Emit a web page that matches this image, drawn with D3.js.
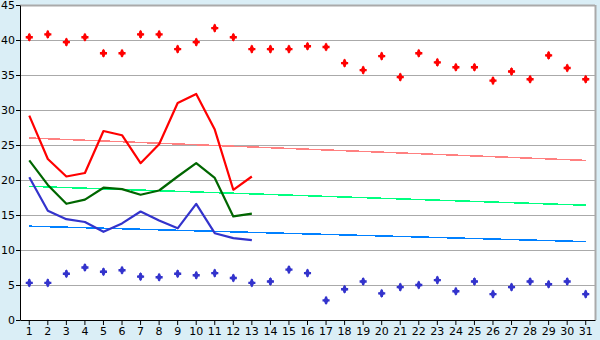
<!DOCTYPE html>
<html>
<head>
<meta charset="utf-8">
<script src="https://cdn.jsdelivr.net/npm/d3@7"></script>
<style>
  body { margin: 0; background: #daeef6; }
  text { font-family: "DejaVu Sans", Verdana, sans-serif; font-size: 11px; fill: #000; }
</style>
</head>
<body>
<svg class="chart"></svg>
<script>
(function () {
    'use strict';

    var days = d3.range(1, 32);
    var yTicks = [0, 5, 10, 15, 20, 25, 30, 35, 40, 45];

    // monthly extremes (markers)
    var maxPoints = [40.4, 40.8, 39.7, 40.4, 38.1, 38.1, 40.8, 40.8, 38.7, 39.7,
        41.7, 40.4, 38.7, 38.7, 38.7, 39.1, 39.0, 36.7, 35.7, 37.7,
        34.7, 38.1, 36.8, 36.1, 36.1, 34.2, 35.5, 34.4, 37.8, 36.0, 34.4];
    var minPoints = [5.3, 5.3, 6.6, 7.5, 6.9, 7.1, 6.2, 6.1, 6.6, 6.4,
        6.7, 6.0, 5.3, 5.5, 7.2, 6.7, 2.8, 4.4, 5.5, 3.8,
        4.7, 5.0, 5.7, 4.1, 5.5, 3.7, 4.7, 5.5, 5.1, 5.5, 3.7];

    // current month (days 1-13)
    var highLine = [29.2, 23.0, 20.5, 21.0, 27.0, 26.4, 22.4, 25.1, 31.0, 32.3, 27.2, 18.6, 20.5];
    var meanLine = [22.8, 19.3, 16.6, 17.2, 18.9, 18.7, 17.9, 18.5, 20.5, 22.4, 20.3, 14.8, 15.2];
    var lowLine  = [20.4, 15.6, 14.4, 14.0, 12.6, 13.8, 15.5, 14.2, 13.1, 16.6, 12.4, 11.7, 11.4];

    // trend lines, value at day 1 and day 31
    var highTrend = [26.0, 22.8];
    var meanTrend = [19.1, 16.4];
    var lowTrend  = [13.4, 11.2];

    var margin = {top: 5, right: 5, bottom: 20, left: 20},
        width = 600 - margin.left - margin.right,
        height = 340 - margin.top - margin.bottom;

    var svg = d3.select(".chart")
        .attr("width", 600)
        .attr("height", 340)
        .append("g")
        .attr("transform", "translate(" + margin.left + "," + margin.top + ")");

    var x = d3.scaleBand().domain(days).range([0, width]);
    var xc = function (d) { return x(d) + x.bandwidth() / 2; };
    var y = d3.scaleLinear().domain([0, 45]).range([height, 0]);

    svg.append("rect")
        .attr("width", width)
        .attr("height", height)
        .attr("fill", "#fff");

    svg.append("g")
        .selectAll("line")
        .data(yTicks.slice(1))
        .enter().append("line")
        .attr("x1", 0).attr("x2", width)
        .attr("y1", function (d) { return Math.round(y(d)) + 0.5; })
        .attr("y2", function (d) { return Math.round(y(d)) + 0.5; })
        .attr("stroke", "#aaaaaa")
        .attr("stroke-width", function (d) { return d === 45 ? 2 : 1; });

    svg.append("line")
        .attr("x1", width + 0.5).attr("x2", width + 0.5)
        .attr("y1", 0).attr("y2", height)
        .attr("stroke", "#aaaaaa")
        .attr("stroke-width", 2);

    function drawTrend(vals, col) {
        svg.append("line")
            .attr("x1", xc(1)).attr("x2", xc(31))
            .attr("y1", y(vals[0])).attr("y2", y(vals[1]))
            .attr("stroke", col)
            .attr("stroke-width", 1.5)
            .attr("shape-rendering", "crispEdges");
    }
    drawTrend(highTrend, "#ff8080");
    drawTrend(meanTrend, "#00ff80");
    drawTrend(lowTrend, "#0080ff");

    var line = d3.line()
        .x(function (d, i) { return xc(days[i]); })
        .y(function (d) { return y(d); });

    function drawLine(vals, col) {
        svg.append("path")
            .datum(vals)
            .attr("fill", "none")
            .attr("stroke", col)
            .attr("stroke-width", 2.2)
            .attr("stroke-linejoin", "round")
            .attr("d", line);
    }
    drawLine(highLine, "#ff0000");
    drawLine(meanLine, "#006600");
    drawLine(lowLine, "#3333cc");

    var cross = d3.symbol().type(d3.symbolCross).size(28);
    var diamond = d3.symbol().type(d3.symbolDiamond).size(24);

    function drawMarkers(vals, col) {
        var g = svg.append("g").selectAll("g")
            .data(vals)
            .enter().append("g")
            .attr("transform", function (d, i) {
                return "translate(" + xc(days[i]) + "," + y(d) + ")";
            })
            .attr("fill", col);
        g.append("path").attr("d", cross);
        g.append("path").attr("d", diamond);
    }
    drawMarkers(maxPoints, "#ff0000");
    drawMarkers(minPoints, "#3333cc");

    var xAxis = d3.axisBottom(x).tickSize(5).tickSizeOuter(0);
    svg.append("g")
        .attr("transform", "translate(0," + height + ")")
        .call(xAxis)
        .call(function (g) {
            g.select(".domain").attr("stroke", "#000");
            g.selectAll("text").attr("dy", "0.85em").attr("y", 6);
        });

    var yAxis = d3.axisLeft(y).tickValues(yTicks).tickSize(4).tickSizeOuter(0);
    svg.append("g")
        .call(yAxis)
        .call(function (g) {
            g.select(".domain").attr("stroke", "#000");
            g.selectAll("text").attr("x", -5);
        });
})();
</script>
</body>
</html>
